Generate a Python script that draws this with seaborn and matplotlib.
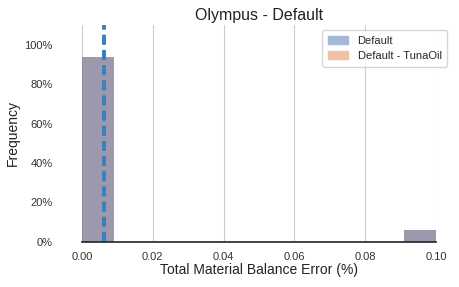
import numpy as np
import pandas as pd
import matplotlib
matplotlib.use('Agg')
import matplotlib.pyplot as plt
import matplotlib.patches as mpatches
from matplotlib.ticker import PercentFormatter
import seaborn as sns

# errores de balance de materia por caso (%)
errores_default = [0.0, 0.0, 0.0, 0.0, 0.0, 0.0, 0.0, 0.0,
                   0.0, 0.0, 0.0, 0.0, 0.0, 0.0, 0.0, 0.1]
errores_tunaoil = [0.0, 0.0, 0.0, 0.0, 0.0, 0.0, 0.0, 0.0,
                   0.0, 0.0, 0.0, 0.0, 0.0, 0.0, 0.0, 0.1]
etiquetas = ['Default', 'Default - TunaOil']
colores_leyenda = ['#a5b8d8', '#eec1a7']
ticks_x = [0.0, 0.02, 0.04, 0.06, 0.08, 0.10]
etiquetas_x = ['0.00', '0.02', '0.04', '0.06', '0.08', '0.10']
ticks_y = [0, 0.2, 0.4, 0.6, 0.8, 1.0]

sns.set_theme(style='whitegrid')
plt.rcParams['font.family'] = ['Liberation Sans', 'DejaVu Sans']

fig = plt.figure(figsize=(4.6, 2.87), dpi=100)
ax = fig.add_axes([0.178, 0.157, 0.770, 0.756])

sns.histplot(x=errores_default, bins=11, binrange=(0, 0.1), stat='probability',
             color='#4c72b0', alpha=0.5, linewidth=0, ax=ax)
sns.histplot(x=errores_tunaoil, bins=11, binrange=(0, 0.1), stat='probability',
             color='#957b84', alpha=0.5, linewidth=0, ax=ax)

media = np.mean(errores_default)
ax.axvline(media, color='#3a7fbe', linewidth=2.8, dashes=(2.6, 1.3))

ax.set_xlim(0, 0.1)
ax.set_ylim(0, 1.1)
ax.set_xticks(ticks_x)
ax.set_xticklabels(etiquetas_x)
ax.set_yticks(ticks_y)
ax.yaxis.set_major_formatter(PercentFormatter(1.0, decimals=0))
ax.tick_params(axis='both', labelsize=8, colors='#333333', length=0)
ax.tick_params(axis='x', pad=7)
ax.tick_params(axis='y', pad=21)
ax.grid(axis='y', visible=False)
ax.grid(axis='x', color='#cccccc', linewidth=0.8)

for lado in ['left', 'right', 'top']:
    ax.spines[lado].set_visible(False)
ax.spines['bottom'].set_color('#222222')
ax.spines['bottom'].set_linewidth(1.2)

ax.set_title('Olympus - Default', fontsize=11.5, color='#222222', pad=3.6)
ax.set_xlabel('Total Material Balance Error (%)', fontsize=10, color='#222222')
ax.set_ylabel('Frequency', fontsize=10, color='#222222')
ax.xaxis.set_label_coords(0.5, -0.095)
ax.yaxis.set_label_coords(-0.175, 0.5)

handles = [mpatches.Patch(color=c, label=l) for c, l in zip(colores_leyenda, etiquetas)]
ax.legend(handles=handles, loc='upper right', fontsize=8, frameon=True,
          bbox_to_anchor=(1.031, 0.977), borderaxespad=0, handlelength=1.8,
          handletextpad=0.9, borderpad=0.5)

fig.savefig('out.png', dpi=100)
